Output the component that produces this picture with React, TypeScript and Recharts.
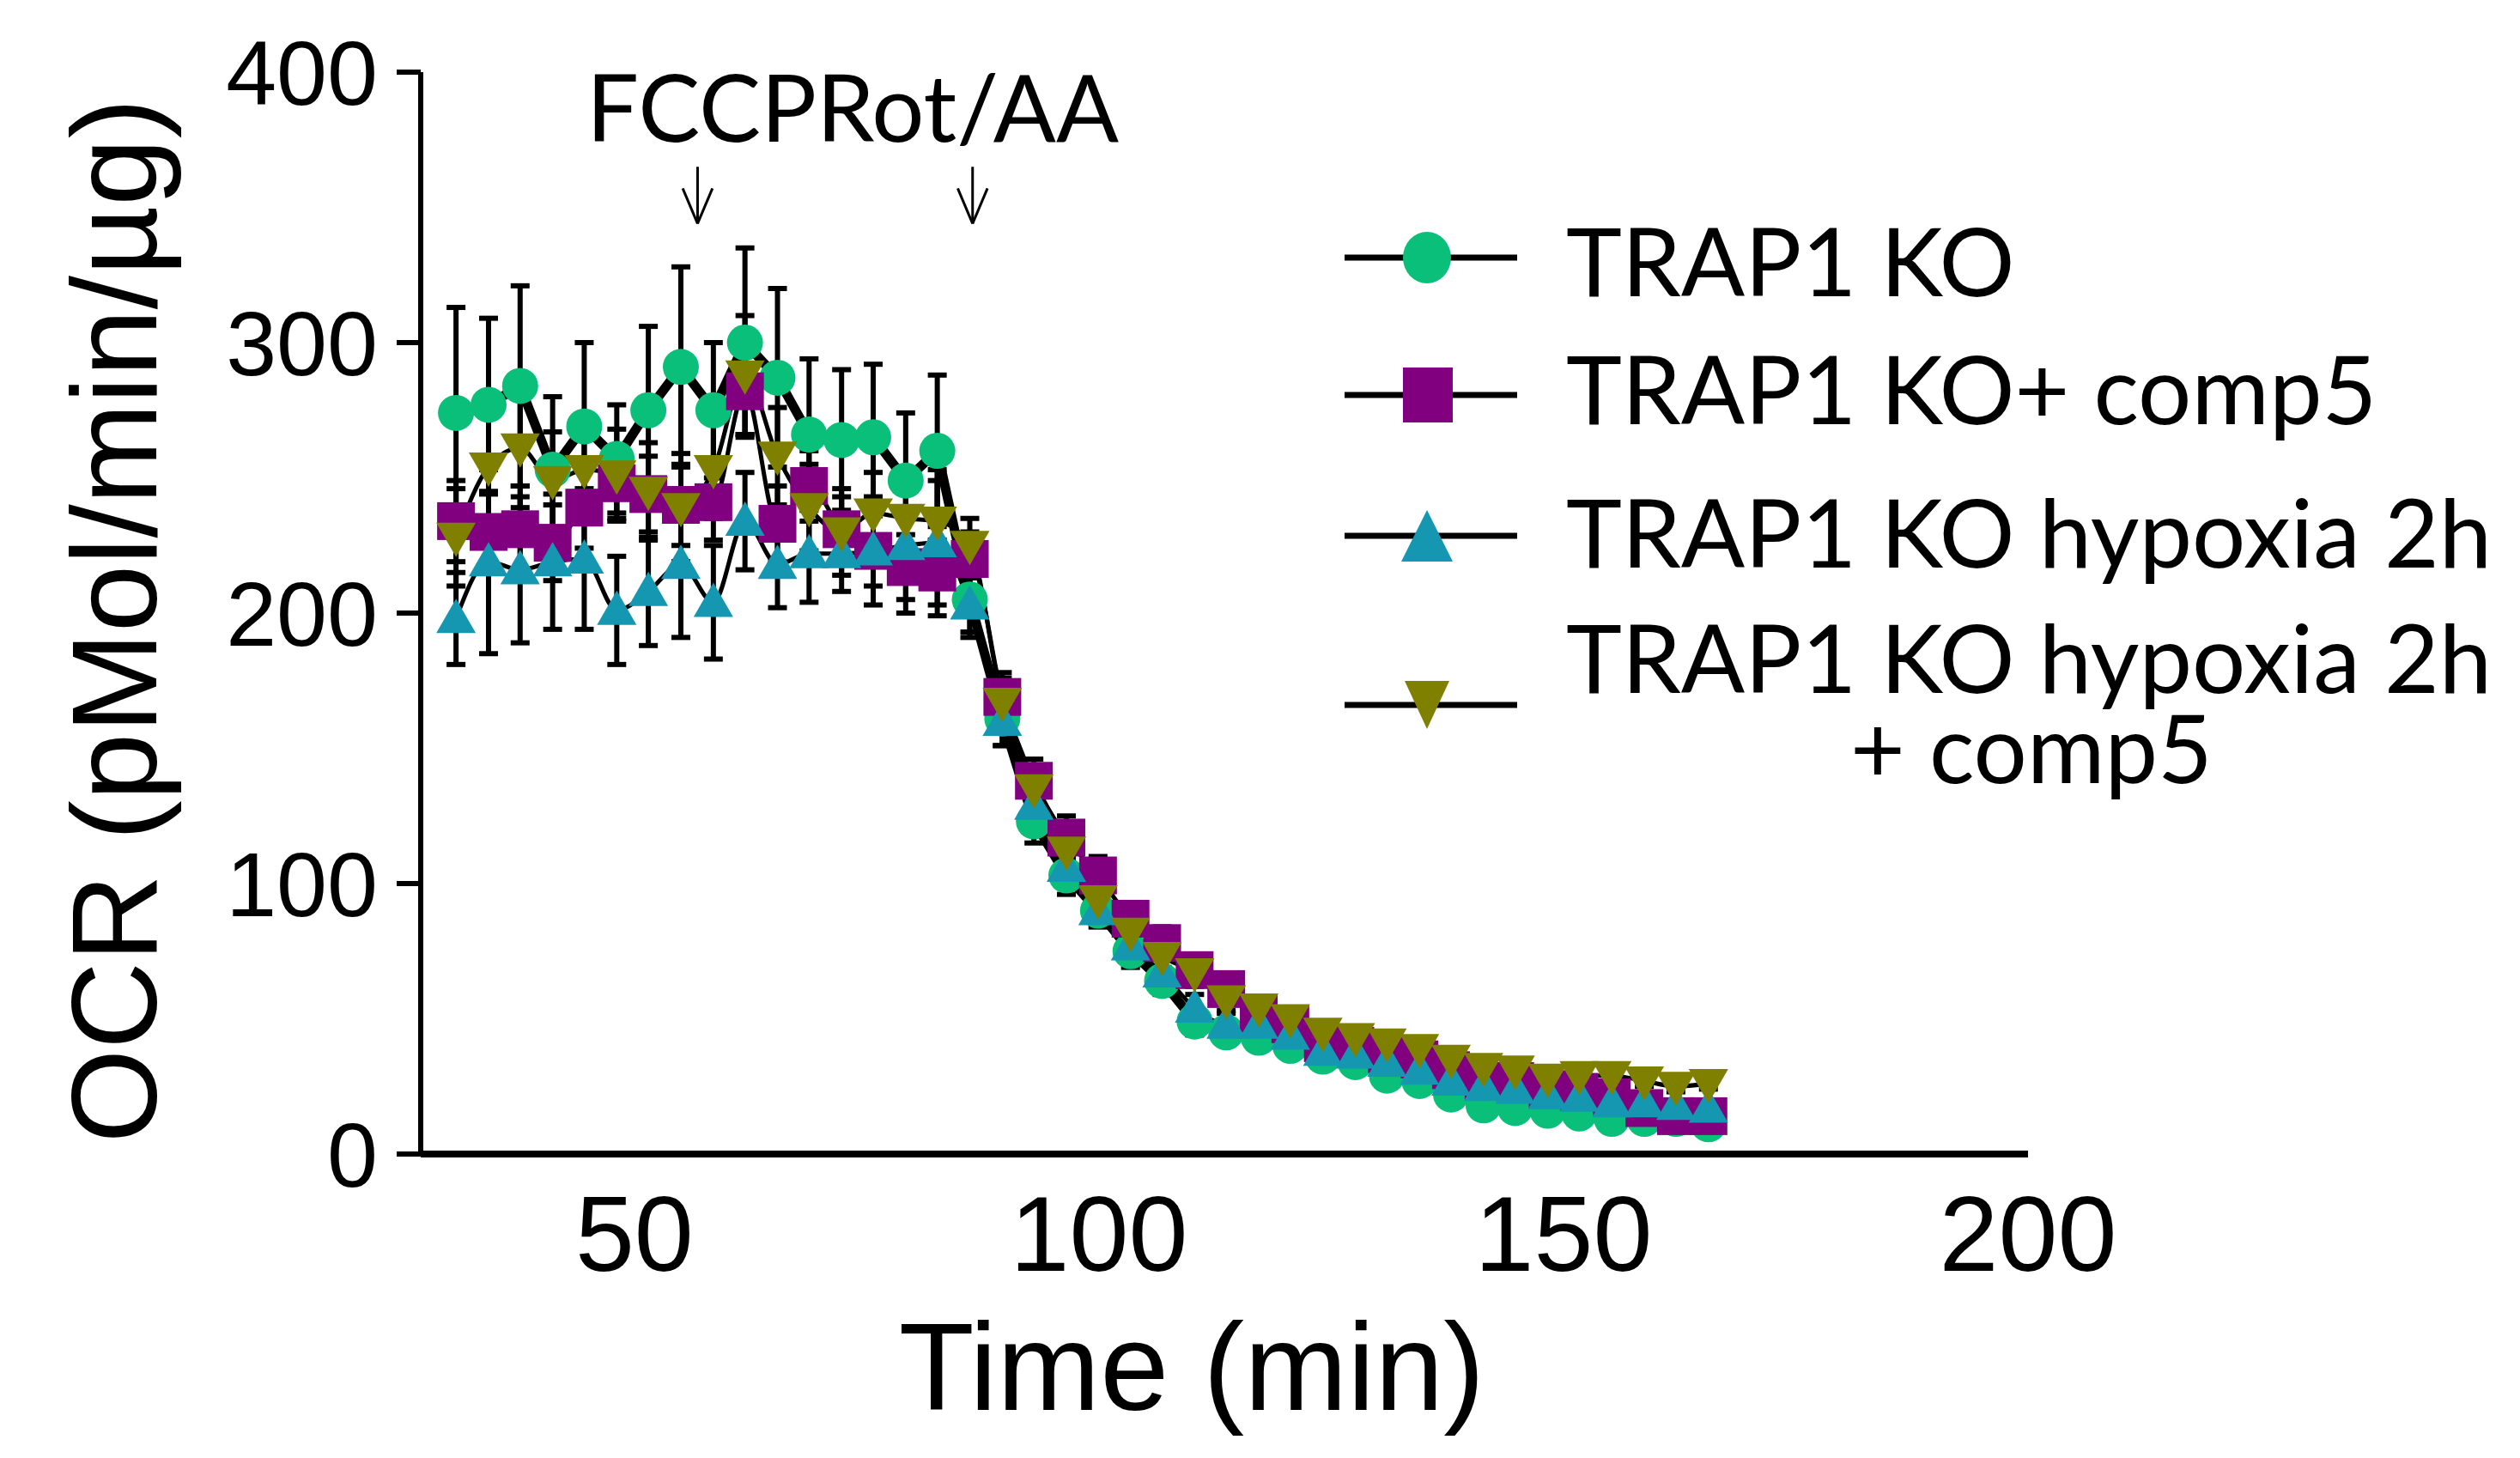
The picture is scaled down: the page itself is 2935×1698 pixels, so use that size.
import { LineChart, Line, XAxis, YAxis, ErrorBar, ReferenceLine } from "recharts";

const GREEN = "#0ABF7A";
const PURPLE = "#800080";
const CYAN = "#1597B2";
const OLIVE = "#7F7F00";

const times = [
  30.8, 34.3, 37.7, 41.2, 44.6, 48.1, 51.5, 55.0, 58.5, 61.9,
  65.4, 68.8, 72.3, 75.7, 79.2, 82.6, 86.1, 89.6, 93.0, 96.5,
  99.9, 103.4, 106.8, 110.3, 113.7, 117.2, 120.6, 124.1, 127.6, 131.0,
  134.5, 137.9, 141.4, 144.8, 148.3, 151.7, 155.2, 158.7, 162.1, 165.6,
];

// TRAP1 KO
const koValues = [
  274, 277, 284, 253, 269, 257, 275, 291, 275, 300,
  287, 266, 264, 265, 249, 260, 205, 161, 123, 103,
  90, 75, 64, 49, 45, 43, 40, 36, 34, 29,
  27, 22, 18, 17, 16, 15, 13, 13, 13, 11,
];
const koErrors = [
  39, 32, 37, 27, 31, 20, 31, 37, 25, 35,
  33, 28, 26, 27, 25, 28, 14, 10, 8, 7,
  6, 6, 5, 5, 4, 4, 4, 3, 3, 3,
  3, 3, 2, 2, 2, 2, 2, 2, 2, 2,
];

// TRAP1 KO + comp5
const compValues = [
  234, 230, 231, 226, 239, 248, 244, 240, 241, 282,
  233, 247, 231, 223, 217, 215, 220, 169, 138, 117,
  103, 87, 78, 68, 61, 52, 48, 41, 40, 37,
  35, 31, 27, 27, 24, 23, 21, 17, 14, 14,
];
const compErrors = [
  15, 14, 16, 14, 15, 13, 14, 15, 14, 16,
  14, 13, 12, 13, 12, 12, 10, 9, 8, 8,
  7, 6, 6, 5, 5, 4, 4, 3, 3, 3,
  3, 3, 2, 2, 2, 2, 2, 2, 2, 2,
];

// TRAP1 KO hypoxia 2h
const hypValues = [
  198, 219, 216, 219, 220, 201, 208, 218, 204, 234,
  218, 222, 222, 223, 225, 226, 203, 160, 129, 106,
  90, 77, 67, 54, 48, 48, 44, 38, 37, 34,
  31, 27, 25, 24, 22, 21, 19, 19, 18, 17,
];
const hypErrors = [
  17, 34, 27, 25, 26, 20, 20, 27, 21, 18,
  16, 18, 14, 20, 25, 27, 10, 9, 8, 7,
  6, 6, 5, 5, 4, 4, 4, 3, 3, 3,
  3, 3, 2, 2, 2, 2, 2, 2, 2, 2,
];

// TRAP1 KO hypoxia 2h + comp5
const hypCompValues = [
  228, 254, 261, 249, 253, 251, 245, 239, 253, 288,
  258, 239, 230, 237, 235, 234, 225, 167, 135, 112,
  94, 82, 73, 67, 57, 54, 50, 45, 43, 41,
  39, 35, 32, 31, 28, 29, 29, 27, 25, 26,
];
const hypCompErrors = [
  18, 20, 22, 18, 20, 17, 18, 20, 18, 22,
  18, 16, 16, 15, 14, 15, 10, 9, 8, 7,
  6, 6, 5, 5, 4, 4, 4, 3, 3, 3,
  3, 3, 2, 2, 2, 2, 2, 2, 2, 2,
];

const xTicks = [50, 100, 150, 200];
const yTicks = [0, 100, 200, 300, 400];

const seriesNames = [
  "TRAP1 KO",
  "TRAP1 KO+ comp5",
  "TRAP1 KO hypoxia 2h",
  "TRAP1 KO hypoxia 2h",
];

const data = times.map((t, i) => ({
  time: t,
  ko: koValues[i],
  koErr: koErrors[i],
  comp: compValues[i],
  compErr: compErrors[i],
  hyp: hypValues[i],
  hypErr: hypErrors[i],
  hypComp: hypCompValues[i],
  hypCompErr: hypCompErrors[i],
}));

const TICK_FONT = "'Liberation Sans', Arial, sans-serif";
const TEXT_FONT = "Lato, 'Open Sans', sans-serif";

const CircleDot = (p: any) => <circle key={p.key} cx={p.cx} cy={p.cy} r={21} fill={GREEN} />;
const SquareDot = (p: any) => <rect key={p.key} x={p.cx - 22} y={p.cy - 22} width={44} height={44} fill={PURPLE} />;
const UpDot = (p: any) => (
  <polygon key={p.key} points={`${p.cx},${p.cy - 23} ${p.cx - 23},${p.cy + 17} ${p.cx + 23},${p.cy + 17}`} fill={CYAN} />
);
const DownDot = (p: any) => (
  <polygon key={p.key} points={`${p.cx},${p.cy + 23} ${p.cx - 23},${p.cy - 17} ${p.cx + 23},${p.cy - 17}`} fill={OLIVE} />
);

const XTick = (p: any) => (
  <text x={p.x} y={p.y + 136} textAnchor="middle" fontSize={124} fontFamily={TICK_FONT} fill="#000">
    {p.payload.value}
  </text>
);

const YTick = (p: any) => (
  <text x={p.x} y={p.y} dy="0.36em" textAnchor="end" fontSize={106} fontFamily={TICK_FONT} fill="#000">
    {p.payload.value}
  </text>
);

const arrows = [56.8, 86.4];

const legendRows = [300, 460, 624, 821];

const App = () => {
  return (
    <div style={{ position: "absolute", left: 0, top: 0, width: 2935, height: 1698, background: "#fff" }}>
      <LineChart
        width={2935}
        height={1698}
        data={data}
        margin={{ top: 84, right: 573, left: 290, bottom: 154 }}
      >
        <XAxis
          dataKey="time"
          type="number"
          domain={[27, 200]}
          ticks={xTicks}
          allowDataOverflow
          height={200}
          tickLine={false}
          tickSize={0}
          tickMargin={0}
          axisLine={{ stroke: "#000", strokeWidth: 8 }}
          tick={XTick}
        />
        <YAxis
          type="number"
          domain={[0, 400]}
          ticks={yTicks}
          width={200}
          tickSize={28}
          tickMargin={22}
          axisLine={{ stroke: "#000", strokeWidth: 6 }}
          tickLine={{ stroke: "#000", strokeWidth: 6 }}
          tick={YTick}
        />
        {arrows.map((x) => (
          <ReferenceLine key={`a${x}`} segment={[{ x, y: 365 }, { x, y: 344 }]} stroke="#000" strokeWidth={3} />
        ))}
        {arrows.map((x) => (
          <ReferenceLine key={`l${x}`} segment={[{ x: x - 1.6, y: 357 }, { x, y: 344 }]} stroke="#000" strokeWidth={3} />
        ))}
        {arrows.map((x) => (
          <ReferenceLine key={`r${x}`} segment={[{ x: x + 1.6, y: 357 }, { x, y: 344 }]} stroke="#000" strokeWidth={3} />
        ))}
        <Line
          dataKey="ko"
          type="linear"
          stroke="#000"
          strokeWidth={11}
          dot={CircleDot}
          activeDot={false}
          isAnimationActive={false}
        >
          <ErrorBar dataKey="koErr" direction="y" width={11} stroke="#000" strokeWidth={6} />
        </Line>
        <Line
          dataKey="comp"
          type="monotone"
          stroke="#000"
          strokeWidth={5}
          dot={SquareDot}
          activeDot={false}
          isAnimationActive={false}
        >
          <ErrorBar dataKey="compErr" direction="y" width={11} stroke="#000" strokeWidth={6} />
        </Line>
        <Line
          dataKey="hyp"
          type="monotone"
          stroke="#000"
          strokeWidth={5}
          dot={UpDot}
          activeDot={false}
          isAnimationActive={false}
        >
          <ErrorBar dataKey="hypErr" direction="y" width={11} stroke="#000" strokeWidth={6} />
        </Line>
        <Line
          dataKey="hypComp"
          type="monotone"
          stroke="#000"
          strokeWidth={5}
          dot={DownDot}
          activeDot={false}
          isAnimationActive={false}
        >
          <ErrorBar dataKey="hypCompErr" direction="y" width={11} stroke="#000" strokeWidth={6} />
        </Line>
      </LineChart>

      <svg width={2935} height={1698} style={{ position: "absolute", left: 0, top: 0, pointerEvents: "none" }}>
        <text x={683} y={165} fontSize={108} fontFamily={TEXT_FONT} fill="#000">FCCPRot/AA</text>

        <text
          transform="translate(182,723) rotate(-90)"
          textAnchor="middle"
          fontSize={141}
          fontFamily={TICK_FONT}
          fill="#000"
        >
          OCR (pMol/min/µg)
        </text>
        <text x={1388} y={1642} textAnchor="middle" fontSize={144} fontFamily={TICK_FONT} fill="#000">
          Time (min)
        </text>

        {legendRows.map((y, i) => (
          <g key={i}>
            <line x1={1566} x2={1767} y1={y} y2={y} stroke="#000" strokeWidth={7} />
            {i === 0 && <ellipse cx={1662} cy={y} rx={28} ry={30} fill={GREEN} />}
            {i === 1 && <rect x={1634} y={y - 32} width={58} height={64} fill={PURPLE} />}
            {i === 2 && <polygon points={`1662,${y - 30} 1632,${y + 30} 1692,${y + 30}`} fill={CYAN} />}
            {i === 3 && <polygon points={`1662,${y + 28} 1636,${y - 28} 1688,${y - 28}`} fill={OLIVE} />}
          </g>
        ))}
        <text x={1824} y={345} fontSize={110} fontFamily={TEXT_FONT} fill="#000">{seriesNames[0]}</text>
        <text x={1824} y={494} fontSize={110} fontFamily={TEXT_FONT} fill="#000">{seriesNames[1]}</text>
        <text x={1824} y={661} fontSize={110} fontFamily={TEXT_FONT} fill="#000">{seriesNames[2]}</text>
        <text x={1824} y={807} fontSize={110} fontFamily={TEXT_FONT} fill="#000">{seriesNames[3]}</text>
        <text x={2366} y={912} textAnchor="middle" fontSize={110} fontFamily={TEXT_FONT} fill="#000">+ comp5</text>
      </svg>
    </div>
  );
};

export default App;
